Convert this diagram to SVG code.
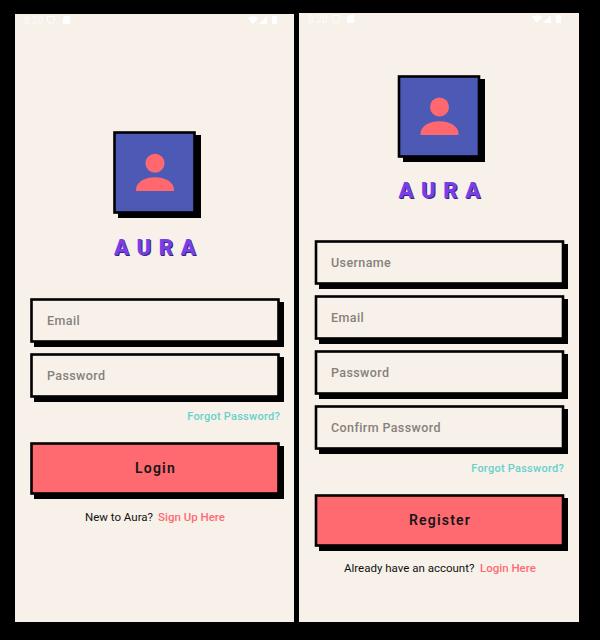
<svg xmlns="http://www.w3.org/2000/svg" width="600" height="640" viewBox="0 0 600 640">
<style>
text{font-family:Roboto,"Liberation Sans",sans-serif}
.panel{fill:#f7f1ea}
.shadow{fill:#000}
.box{stroke:#000;stroke-width:2.600}
.field{fill:#f8f1ea}
.btn{fill:#ff6a70}
.ph{font-size:12.500px;font-weight:500;fill:#86817b;letter-spacing:.4px}
.forgot{font-size:11px;font-weight:500;fill:#66d2c9;letter-spacing:.25px;text-anchor:end}
.btnt{font-size:14px;font-weight:600;fill:#161616;letter-spacing:1.200px;text-anchor:middle}
.small{font-size:11.500px;font-weight:400;fill:#111;letter-spacing:0}
.link{font-size:11.500px;font-weight:500;fill:#ff6b74;letter-spacing:0}
.logo{font-size:22px;font-weight:900;fill:#7b3de6;letter-spacing:7.700px;text-shadow:1px 1px 0 #2c2a78}
.st{font-size:10px;fill:#fff;fill-opacity:.8}
.sti{fill:#fff}
.stl{fill:none;stroke:#fff;stroke-width:1}
.person{fill:#ff686f}
</style>
<rect width="600" height="640" fill="#000"/>
<g id="login-screen">
<rect class="panel" x="15" y="14" width="279" height="608"/>
<g id="login-status">
<text class="st" x="24" y="24">8:20</text>
<path class="stl" d="M47.500 16.500h7v4q-1 3-3.500 4q-2.500-1-3.500-4z"/>
<path class="sti" d="M65 16h5v8h-7v-6z"/>
<path class="sti" d="M248 18q5-3.500 10 0l-5 6z"/>
<path class="sti" d="M267 16v8h-8z"/>
<rect class="sti" x="272" y="16" width="5" height="8"/>
</g>
<g id="login-logo">
<rect class="shadow" x="118" y="135" width="83" height="83"/>
<rect class="box" x="114.500" y="132.500" width="80" height="80" fill="#4c5ab6"/>
<circle cx="155" cy="163.300" r="9.500" class="person"/>
<path class="person" d="M136 191v-1C136 182 145 177.300 155 177.300S174 182 174 190v1z"/>
<text class="logo" x="114" y="255">AURA</text>
</g>
<g id="login-email">
<rect class="shadow" x="34" y="302" width="250" height="45"/>
<rect class="box field" x="31.500" y="299.500" width="247" height="42"/>
<text class="ph" x="47" y="324.500">Email</text>
</g>
<g id="login-password">
<rect class="shadow" x="34" y="357" width="250" height="45"/>
<rect class="box field" x="31.500" y="354.500" width="247" height="42"/>
<text class="ph" x="47" y="380">Password</text>
</g>
<text id="login-forgot" class="forgot" x="280" y="420">Forgot Password?</text>
<g id="login-button">
<rect class="shadow" x="34" y="446" width="250" height="53"/>
<rect class="box btn" x="31.500" y="443.500" width="247" height="50"/>
<text class="btnt" x="155.500" y="472.500">Login</text>
</g>
<g id="login-footer">
<text class="small" x="85" y="520.500">New to Aura?</text>
<text class="link" x="158" y="520.500">Sign Up Here</text>
</g>
</g>
<g id="register-screen">
<rect class="panel" x="299" y="13" width="280" height="609"/>
<g id="register-status">
<text class="st" x="308" y="23">8:20</text>
<path class="stl" d="M332.500 15.500h7v4q-1 3-3.500 4q-2.500-1-3.500-4z"/>
<path class="sti" d="M349 15h5v8h-7v-6z"/>
<path class="sti" d="M532 17q5-3.500 10 0l-5 6z"/>
<path class="sti" d="M551 15v8h-8z"/>
<rect class="sti" x="556" y="15" width="5" height="8"/>
</g>
<g id="register-logo">
<rect class="shadow" x="403" y="79" width="82" height="83"/>
<rect class="box" x="399" y="76.500" width="80" height="80" fill="#4c5ab6"/>
<circle cx="439.500" cy="107" r="9.500" class="person"/>
<path class="person" d="M420.500 135v-1C420.500 126 429.500 121.300 439.500 121.300S458.500 126 458.500 134v1z"/>
<text class="logo" x="398.500" y="198">AURA</text>
</g>
<g id="register-username">
<rect class="shadow" x="319" y="244" width="249" height="45"/>
<rect class="box field" x="316" y="241.500" width="247" height="42"/>
<text class="ph" x="331" y="267">Username</text>
</g>
<g id="register-email">
<rect class="shadow" x="319" y="299" width="249" height="45"/>
<rect class="box field" x="316" y="296.500" width="247" height="42"/>
<text class="ph" x="331" y="322">Email</text>
</g>
<g id="register-password">
<rect class="shadow" x="319" y="354" width="249" height="45"/>
<rect class="box field" x="316" y="351.500" width="247" height="42"/>
<text class="ph" x="331" y="377">Password</text>
</g>
<g id="register-confirm">
<rect class="shadow" x="319" y="409" width="249" height="45"/>
<rect class="box field" x="316" y="406.500" width="247" height="42"/>
<text class="ph" x="331" y="432">Confirm Password</text>
</g>
<text id="register-forgot" class="forgot" x="564" y="472">Forgot Password?</text>
<g id="register-button">
<rect class="shadow" x="319" y="498" width="249" height="53"/>
<rect class="box btn" x="316" y="495.500" width="247" height="50"/>
<text class="btnt" x="440" y="524.500">Register</text>
</g>
<g id="register-footer">
<text class="small" x="344" y="572">Already have an account?</text>
<text class="link" x="480" y="572">Login Here</text>
</g>
</g>
</svg>
